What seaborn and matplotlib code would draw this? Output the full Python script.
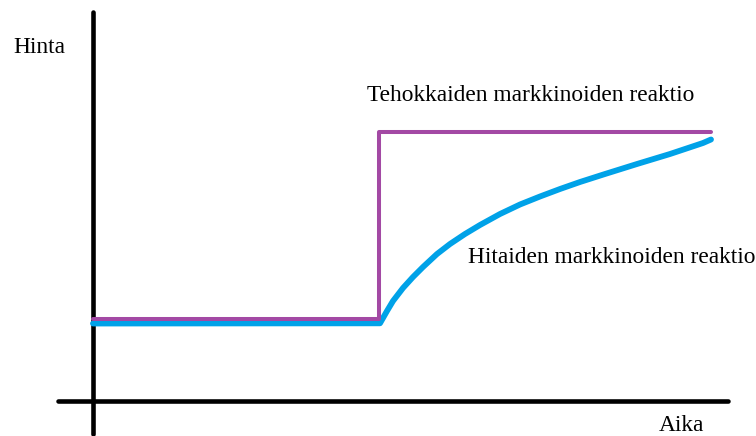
import matplotlib
matplotlib.use("Agg")
import matplotlib.pyplot as plt
import seaborn as sns
import pandas as pd

# Data (time, price); origin at the axes crossing
eff_time = [0, 286, 286, 618]
eff_price = [82, 82, 269, 269]

slow_time = [0, 287, 294, 300, 310, 320, 330, 344, 357, 372, 387, 407,
             427, 447, 467, 487, 512, 544, 577, 610, 618]
slow_price = [77.5, 77.7, 90, 100, 113, 124, 134, 147, 157, 167, 176, 187,
              196.5, 204.5, 212, 219, 227, 237, 247, 258, 261.5]

labels = {
    "y": "Hinta",
    "x": "Aika",
    "eff": "Tehokkaiden markkinoiden reaktio",
    "slow": "Hitaiden markkinoiden reaktio",
}

sns.set_style("white")
plt.rcParams["font.family"] = ["Liberation Serif", "DejaVu Serif"]

fig = plt.figure(figsize=(7.56, 4.36), dpi=100)
ax = fig.add_axes([0, 0, 1, 1])

# Axis lines
ax.plot([0, 0], [389, -33], color="black", lw=3.3, solid_capstyle="round")
ax.plot([-35, 635], [0, 0], color="black", lw=3.3, solid_capstyle="round")

df_slow = pd.DataFrame({"t": slow_time, "p": slow_price})
df_eff = pd.DataFrame({"t": eff_time, "p": eff_price})
sns.lineplot(data=df_slow, x="t", y="p", sort=False, estimator=None,
             color="#00A2E8", lw=4.2, ax=ax, solid_capstyle="round",
             solid_joinstyle="round")
sns.lineplot(data=df_eff, x="t", y="p", sort=False, estimator=None,
             color="#A349A4", lw=2.9, ax=ax, solid_capstyle="round")

fs = 16.8
tc = "black"
ax.text(-80, 348, labels["y"], fontsize=fs, ha="left", va="baseline", color=tc)
ax.text(566, -30, labels["x"], fontsize=fs, ha="left", va="baseline", color=tc)
ax.text(274, 300, labels["eff"], fontsize=fs, ha="left", va="baseline", color=tc)
ax.text(375, 138, labels["slow"], fontsize=fs, ha="left", va="baseline", color=tc)

ax.set_xlim(-93, 663)
ax.set_ylim(-35, 401)
ax.axis("off")

fig.savefig("out.png", dpi=100, facecolor="white")
